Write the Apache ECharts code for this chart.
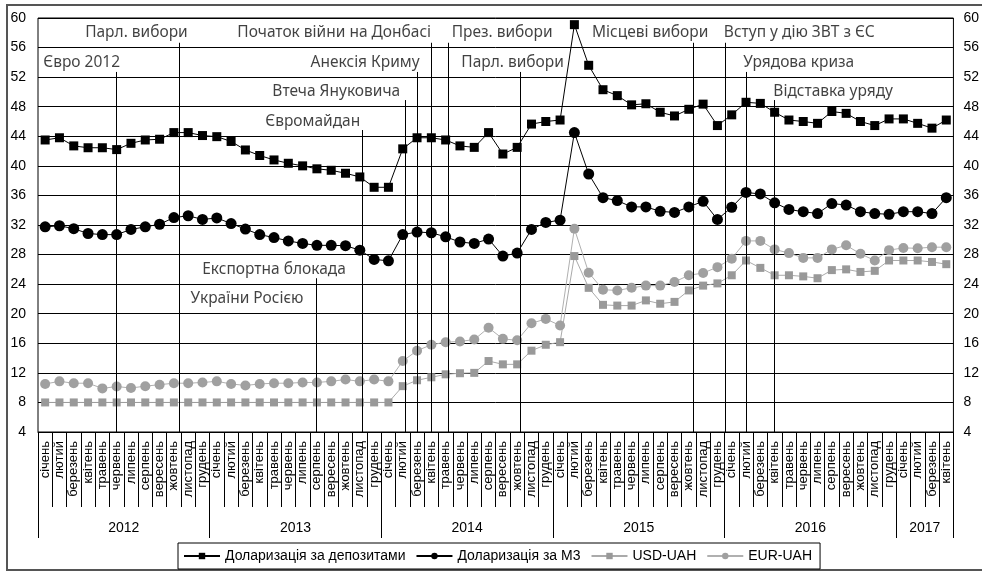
<!DOCTYPE html>
<html>
<head>
<meta charset="utf-8">
<script src="https://cdn.jsdelivr.net/npm/echarts@6/dist/echarts.min.js"></script>
<style>
html,body{margin:0;padding:0;background:#fff;}
#c{width:982px;height:572px;}
</style>
</head>
<body>
<div id="c"></div>
<script>
// ---- data ----
const monthNames = ['січень','лютий','березень','квітень','травень','червень','липень','серпень','вересень','жовтень','листопад','грудень'];
const years = ['2012','2013','2014','2015','2016','2017'];
const monthsPerYear = [12,12,12,12,12,4];

const deposits = [43.5,43.8,42.7,42.45,42.45,42.2,43.05,43.5,43.6,44.5,44.5,44.1,
  43.95,43.3,42.15,41.4,40.8,40.35,40.0,39.6,39.4,39.0,38.5,37.1,
  37.1,42.3,43.8,43.8,43.5,42.7,42.5,44.5,41.6,42.5,45.65,46.0,
  46.2,59.1,53.6,50.3,49.5,48.25,48.4,47.25,46.75,47.65,48.35,45.45,
  46.9,48.6,48.45,47.25,46.2,46.0,45.75,47.35,47.1,46.0,45.45,46.35,
  46.35,45.75,45.1,46.2];
const m3 = [31.75,31.9,31.5,30.85,30.7,30.7,31.4,31.75,32.1,33.0,33.25,32.75,
  32.95,32.2,31.45,30.7,30.3,29.85,29.5,29.25,29.25,29.2,28.6,27.35,
  27.15,30.7,31.05,30.95,30.4,29.7,29.5,30.1,27.8,28.2,31.4,32.35,
  32.65,44.5,38.9,35.7,35.3,34.45,34.45,33.85,33.7,34.45,35.2,32.75,
  34.4,36.4,36.2,35.0,34.1,33.8,33.55,34.9,34.7,33.8,33.55,33.45,
  33.8,33.8,33.55,35.7];
const usd = [8.0,8.0,8.0,8.0,8.0,8.0,8.0,8.0,8.0,8.0,8.0,8.0,
  8.0,8.0,8.0,8.0,8.0,8.0,8.0,8.0,8.0,8.0,8.0,8.0,
  8.0,10.2,11.0,11.4,11.8,11.95,12.0,13.6,13.15,13.15,15.0,15.8,
  16.15,27.8,23.5,21.2,21.1,21.1,21.8,21.35,21.6,23.15,23.8,24.1,
  25.2,27.2,26.2,25.2,25.2,25.05,24.8,25.9,26.0,25.65,25.8,27.2,
  27.2,27.2,27.0,26.7];
const eur = [10.5,10.85,10.6,10.6,9.9,10.15,9.95,10.2,10.4,10.6,10.6,10.7,
  10.85,10.5,10.3,10.5,10.6,10.6,10.7,10.7,10.85,11.1,10.85,11.1,
  10.85,13.6,15.0,15.8,16.15,16.25,16.5,18.1,16.6,16.4,18.7,19.3,
  18.4,31.5,25.55,23.25,23.15,23.5,23.8,23.8,24.3,25.2,25.5,26.3,
  27.45,29.85,29.85,28.7,28.2,27.55,27.55,28.7,29.25,28.1,27.2,28.6,
  28.9,28.85,29.0,29.0];

// events: name, position in months since Jan 2012 (fractional)
const eventNames = ['Євро 2012','Парл. вибори','Експортна блокада','Євромайдан','Втеча Януковича','Анексія Криму','Початок війни на Донбасі','През. вибори','Парл. вибори','Місцеві вибори','Вступ у дію ЗВТ з ЄС','Урядова криза','Відставка уряду'];
const eventMonth = [5.5,9.87,19.44,22.7,25.67,26.53,27.46,28.69,33.73,45.81,48.08,49.53,51.5];

// ---- build ----
const categories = [];
monthsPerYear.forEach(n => { for (let i = 0; i < n; i++) categories.push(monthNames[i]); });
const yearBounds = [0];
monthsPerYear.forEach(n => yearBounds.push(yearBounds[yearBounds.length-1] + n));
const yearCenters = years.map((y,i) => (yearBounds[i] + yearBounds[i+1]) / 2);

// annotation layout (line top value, label anchor x, label row value)
const evLayout = [
  {top:52.7, lx:3.05,  ly:54},
  {top:56.65,lx:6.88,  ly:58},
  {top:24.8, lx:16.5,  ly:26, extra:'України Росією', ex:14.61, ey:22},
  {top:44.85,lx:19.21, ly:46},
  {top:48.9, lx:20.85, ly:50},
  {top:52.7, lx:22.87, ly:54},
  {top:56.65,lx:20.71, ly:58},
  {top:56.65,lx:32.45, ly:58},
  {top:52.7, lx:33.18, ly:54},
  {top:56.65,lx:42.8,  ly:58},
  {top:56.65,lx:53.22, ly:58},
  {top:52.7, lx:53.18, ly:54},
  {top:48.9, lx:55.59, ly:50}
];

const labelData = [];
const lineData = [];
eventNames.forEach((n,i) => {
  const L = evLayout[i];
  labelData.push({value:[L.lx, L.ly], label:{formatter:n}});
  if (L.extra) labelData.push({value:[L.ex, L.ey], label:{formatter:L.extra}});
  lineData.push([{coord:[eventMonth[i], 4]}, {coord:[eventMonth[i], L.top]}]);
});

const ff = '"Liberation Sans", Arial, sans-serif';
const chart = echarts.init(document.getElementById('c'));
chart.setOption({
  animation:false,
  backgroundColor:'#fff',
  graphic:[{type:'rect', silent:true, z:-10, shape:{x:7,y:5,width:1000,height:565}, style:{fill:'none', stroke:'#555', lineWidth:2}}],
  grid:{left:38, top:18, right:25, bottom:140, show:true, borderColor:'#000', borderWidth:1, containLabel:false},
  legend:{
    data:['Доларизація за депозитами','Доларизація за М3','USD-UAH','EUR-UAH'],
    left:178, top:543, borderColor:'#000', borderWidth:1, padding:[6,8,6,5],
    itemWidth:36, itemHeight:8, itemGap:10,
    textStyle:{fontFamily:ff, fontSize:14, color:'#000'}
  },
  xAxis:[
    {type:'category', data:categories, boundaryGap:true, position:'bottom',
     axisLine:{show:true, lineStyle:{color:'#000'}},
     axisTick:{show:true, interval:0, length:75, lineStyle:{color:'#000'}},
     axisLabel:{interval:0, rotate:90, margin:9, fontFamily:ff, fontSize:13, color:'#000'},
     splitLine:{show:false}},
    {type:'value', min:0, max:64, position:'bottom',
     axisLine:{show:false},
     axisTick:{show:true, length:106, customValues:yearBounds, lineStyle:{color:'#000'}},
     axisLabel:{show:true, customValues:yearCenters, margin:89, fontFamily:ff, fontSize:14, color:'#000',
       formatter:v => { const k = yearCenters.indexOf(v); return k >= 0 ? years[k] : ''; }},
     splitLine:{show:false}}
  ],
  yAxis:[
    {type:'value', min:4, max:60, interval:4, position:'left',
     axisLine:{show:false}, axisTick:{show:false},
     axisLabel:{fontFamily:ff, fontSize:14, color:'#000', margin:12},
     splitLine:{show:true, lineStyle:{color:'#000', width:1}}},
    {type:'value', min:4, max:60, interval:4, position:'right',
     axisLine:{show:false}, axisTick:{show:false},
     axisLabel:{fontFamily:ff, fontSize:14, color:'#000', margin:10},
     splitLine:{show:false}}
  ],
  series:[
    {name:'Доларизація за депозитами', type:'line', data:deposits, symbol:'rect', symbolSize:9,
     itemStyle:{color:'#000'}, lineStyle:{color:'#000', width:1}, z:5},
    {name:'Доларизація за М3', type:'line', data:m3, symbol:'circle', symbolSize:11,
     itemStyle:{color:'#000'}, lineStyle:{color:'#000', width:1}, z:5},
    {name:'USD-UAH', type:'line', data:usd, symbol:'rect', symbolSize:8,
     itemStyle:{color:'#999'}, lineStyle:{color:'#aaa', width:1}, z:4},
    {name:'EUR-UAH', type:'line', data:eur, symbol:'circle', symbolSize:10,
     itemStyle:{color:'#a0a0a0'}, lineStyle:{color:'#b0b0b0', width:1}, z:4},
    {name:'events', type:'scatter', xAxisIndex:1, data:labelData, symbolSize:0, silent:true, z:6,
     label:{show:true, position:'inside', fontFamily:'"Noto Sans", "Open Sans", sans-serif', fontSize:15.5, color:'#111'},
     markLine:{silent:true, symbol:['none','none'], label:{show:false},
       lineStyle:{color:'#000', width:1, type:'solid'}, data:lineData}}
  ]
});
</script>
</body>
</html>
